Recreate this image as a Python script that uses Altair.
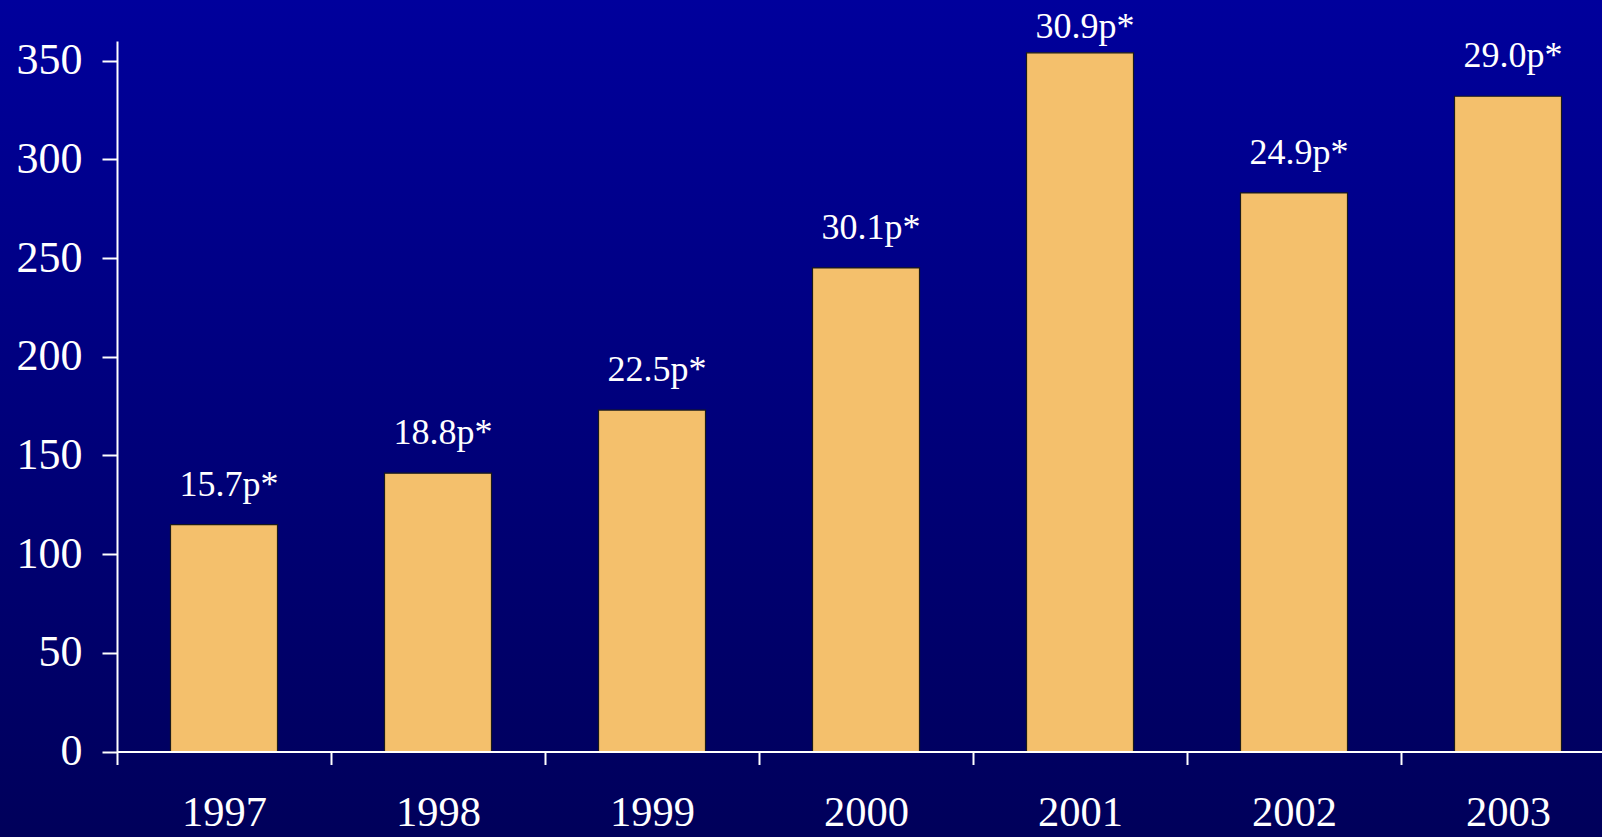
import altair as alt
import pandas as pd

# Annual figures (bar heights) and the per-share annotations shown above each bar
years = ["1997", "1998", "1999", "2000", "2001", "2002", "2003"]
values = [115, 141, 173, 245, 354, 283, 332]
labels = ["15.7p*", "18.8p*", "22.5p*", "30.1p*", "30.9p*", "24.9p*", "29.0p*"]
y_ticks = [0, 50, 100, 150, 200, 250, 300, 350]

df = pd.DataFrame({"year": years, "value": values, "label": labels})

FONT = "Liberation Serif"
W, H = 1485, 710.5
PAD = {"left": 117, "top": 41, "right": 0, "bottom": 85.5}

# Full-step bands so ticks fall midway between bars; bars take half of each step
x_scale = alt.Scale(domain=years, range=[0, 1498], paddingInner=0, paddingOuter=0)
y_scale = alt.Scale(domain=[0, 360], nice=False)

gradient = {
    "gradient": "linear",
    "x1": 0, "y1": 0, "x2": 0, "y2": 1,
    "stops": [
        {"offset": 0, "color": "#00009C"},
        {"offset": 1, "color": "#00005A"},
    ],
}

# Full-canvas gradient backdrop
backdrop = alt.Chart(pd.DataFrame({"k": [0]})).mark_rect(color=gradient, clip=False).encode(
    x=alt.value(-PAD["left"]),
    x2=alt.value(W + 20),
    y=alt.value(-PAD["top"]),
    y2=alt.value(H + PAD["bottom"] + 5),
)

x_axis = alt.Axis(
    title=None, labelAngle=0, tickBand="extent", ticks=True, tickSize=13, tickWidth=2,
    tickColor="white", domainColor="white", domainWidth=2, labelColor="white",
    labelFont=FONT, labelFontSize=42.5, labelPadding=27, grid=False,
    labelOverlap=False, labelBound=False, zindex=2,
)
y_axis = alt.Axis(
    title=None, values=y_ticks, tickSize=15, tickWidth=2, tickColor="white",
    domainColor="white", domainWidth=2, labelColor="white", labelFont=FONT,
    labelFontSize=44, labelPadding=20, grid=False, labelBaseline="middle", zindex=2,
)

bars = alt.Chart(df).mark_bar(
    color="#F4C06C", stroke="#1a1a1a", strokeWidth=1.2, width={"band": 0.5}
).encode(
    x=alt.X("year:N", scale=x_scale, axis=x_axis, sort=years),
    y=alt.Y("value:Q", scale=y_scale, axis=y_axis),
)

text = alt.Chart(df).transform_calculate(
    pos="min(datum.value, 347)"
).mark_text(
    dx=5, dy=-29, baseline="alphabetic", align="center", fontSize=36, font=FONT, color="white"
).encode(
    x=alt.X("year:N", scale=x_scale, sort=years),
    y=alt.Y("pos:Q", scale=y_scale),
    text="label:N",
)

chart = alt.layer(backdrop, bars, text).properties(
    width=W,
    height=H,
    padding=PAD,
    autosize=alt.AutoSizeParams(type="none"),
    background="#00005A",
).configure_view(strokeWidth=0)

chart.save("out.html", embed_options={"renderer": "svg", "actions": False})
